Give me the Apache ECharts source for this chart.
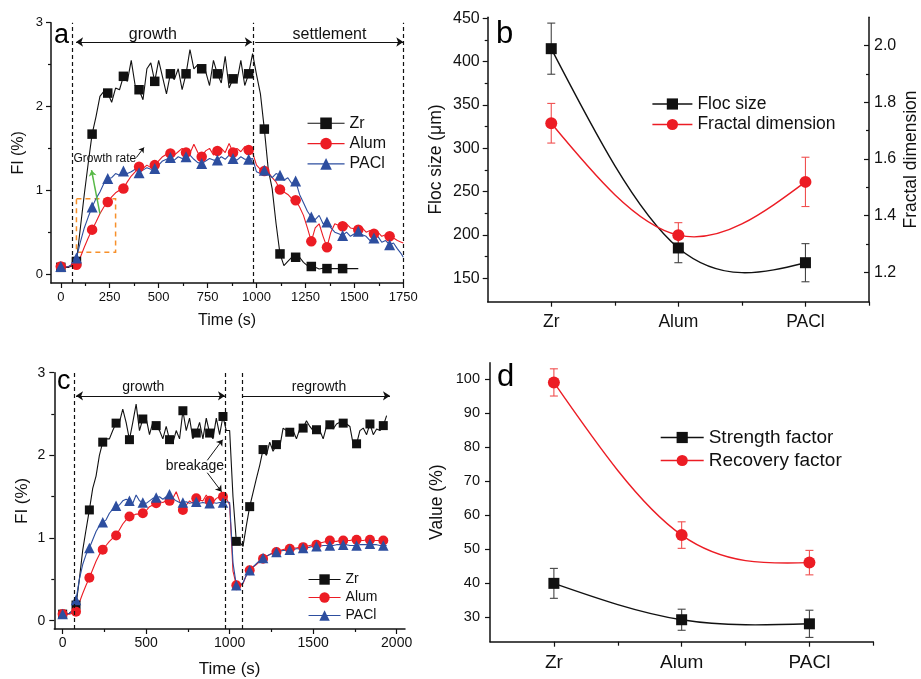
<!DOCTYPE html>
<html><head><meta charset="utf-8">
<script src="https://cdn.jsdelivr.net/npm/echarts@6/dist/echarts.min.js"></script>
<style>html,body{margin:0;padding:0;background:#fff}#c{width:921px;height:679px}</style>
</head><body><div id="c"></div>
<script>
// ================= DATA =================
const timeA = [0,20,40,60,80,100,120,140,160,180,
 200,220,240,260,280,300,320,340,360,380,
 400,420,440,460,480,500,520,540,560,580,
 600,620,640,660,680,700,720,740,760,780,
 800,820,840,860,880,900,920,940,960,980,
 1000,1020,1040,1060,1080,1100,1120,1140,1160,1180,
 1200,1220,1240,1260,1280,1300,1320,1340,1360,1380,
 1400,1420,1440,1460,1480,1500,1520,1540,1560,1580,
 1600,1620,1640,1660,1680,1700,1720,1740,1750];
const zrA = [0.08,0.08,0.08,0.10,0.15,0.55,0.95,1.32,1.67,1.88,
 2.12,2.18,2.16,2.05,2.22,2.20,2.36,2.30,2.55,2.25,
 2.20,2.08,2.45,2.52,2.30,2.55,2.35,2.15,2.39,2.32,
 2.45,2.20,2.39,2.68,2.45,2.50,2.45,2.42,2.25,2.55,
 2.39,2.28,2.60,2.22,2.33,2.30,2.55,2.25,2.39,2.63,
 2.38,2.15,1.73,1.25,1.02,0.60,0.24,0.10,0.15,0.20,
 0.20,0.20,0.14,0.10,0.09,0.08,0.06,0.07,0.065,0.065,
 0.065,0.065,0.065,0.065,0.065,0.065,0.065];
const alumA = [0.09,0.08,0.09,0.10,0.11,0.20,0.32,0.43,0.53,0.62,
 0.72,0.80,0.86,0.92,0.97,1.00,1.02,1.10,1.17,1.22,
 1.28,1.26,1.30,1.27,1.30,1.35,1.40,1.43,1.44,1.42,
 1.46,1.50,1.45,1.44,1.55,1.45,1.40,1.47,1.50,1.42,
 1.47,1.50,1.45,1.56,1.45,1.50,1.46,1.52,1.48,1.45,
 1.30,1.25,1.23,1.22,1.15,1.10,1.01,0.98,0.95,0.90,
 0.88,0.80,0.70,0.55,0.39,0.55,0.60,0.45,0.32,0.50,
 0.60,0.58,0.57,0.60,0.55,0.54,0.53,0.55,0.50,0.52,
 0.48,0.50,0.45,0.47,0.45,0.43,0.40,0.38,0.37];
const paclA = [0.09,0.08,0.09,0.12,0.19,0.38,0.55,0.68,0.80,0.90,
 0.98,1.08,1.14,1.15,1.20,1.18,1.23,1.20,1.22,1.25,
 1.21,1.24,1.27,1.25,1.26,1.30,1.35,1.37,1.39,1.36,
 1.40,1.38,1.40,1.42,1.37,1.33,1.32,1.35,1.38,1.36,
 1.36,1.40,1.37,1.42,1.38,1.36,1.40,1.37,1.37,1.38,
 1.22,1.20,1.24,1.20,1.15,1.20,1.18,1.12,1.15,1.08,
 1.11,0.95,0.85,0.75,0.68,0.65,0.70,0.60,0.62,0.55,
 0.50,0.48,0.46,0.50,0.45,0.48,0.51,0.47,0.45,0.40,
 0.43,0.45,0.38,0.40,0.35,0.37,0.30,0.24,0.20];

const timeC = [0,20,40,60,80,100,120,140,160,180,
 200,220,240,260,280,300,320,340,360,380,
 400,420,440,460,480,500,520,540,560,580,
 600,620,640,660,680,700,720,740,760,780,
 800,820,840,860,880,900,920,940,960,980,
 1000,1020,1040,1060,1080,1100,1120,1140,1160,1180,
 1200,1220,1240,1260,1280,1300,1320,1340,1360,1380,
 1400,1420,1440,1460,1480,1500,1520,1540,1560,1580,
 1600,1620,1640,1660,1680,1700,1720,1740,1760,1780,
 1800,1820,1840,1860,1880,1900,1920,1940];
const zrC = [0.08,0.08,0.09,0.12,0.19,0.50,0.85,1.10,1.34,1.60,
 1.75,2.00,2.16,2.20,2.20,2.30,2.39,2.40,2.56,2.40,
 2.19,2.40,2.62,2.30,2.44,2.45,2.25,2.40,2.36,2.30,
 2.20,2.35,2.19,2.15,2.30,2.20,2.54,2.30,2.45,2.20,
 2.27,2.40,2.20,2.45,2.27,2.20,2.45,2.25,2.47,2.30,
 2.30,1.50,0.96,0.95,0.90,1.15,1.38,1.55,1.72,1.88,
 2.07,2.00,2.16,2.05,2.13,2.10,2.33,2.30,2.28,2.30,
 2.20,2.32,2.33,2.42,2.35,2.30,2.31,2.30,2.20,2.35,
 2.37,2.32,2.38,2.40,2.39,2.38,2.35,2.13,2.14,2.30,
 2.33,2.25,2.38,2.25,2.32,2.30,2.36,2.48];
const alumC = [0.08,0.08,0.08,0.09,0.11,0.22,0.33,0.43,0.52,0.62,
 0.72,0.80,0.86,0.91,0.96,1.00,1.03,1.10,1.17,1.22,
 1.26,1.27,1.29,1.29,1.30,1.33,1.38,1.40,1.42,1.44,
 1.43,1.45,1.45,1.48,1.56,1.45,1.34,1.40,1.45,1.42,
 1.48,1.46,1.45,1.52,1.45,1.43,1.48,1.50,1.50,1.48,
 1.40,0.60,0.43,0.42,0.45,0.55,0.61,0.65,0.68,0.72,
 0.75,0.78,0.80,0.82,0.83,0.85,0.86,0.87,0.87,0.88,
 0.88,0.89,0.89,0.90,0.91,0.92,0.92,0.94,0.95,0.96,
 0.97,0.96,0.96,0.97,0.97,0.97,0.97,0.98,0.98,0.97,
 0.97,0.98,0.98,0.97,0.97,0.97,0.97,0.96];
const paclC = [0.08,0.08,0.09,0.12,0.25,0.50,0.68,0.80,0.88,0.98,
 1.08,1.15,1.19,1.22,1.30,1.35,1.39,1.40,1.45,1.47,
 1.45,1.42,1.52,1.45,1.43,1.42,1.45,1.48,1.49,1.50,
 1.47,1.50,1.53,1.48,1.45,1.43,1.43,1.44,1.42,1.43,
 1.44,1.42,1.43,1.42,1.42,1.43,1.42,1.43,1.43,1.44,
 1.43,0.70,0.43,0.42,0.46,0.55,0.61,0.65,0.69,0.73,
 0.76,0.78,0.80,0.82,0.83,0.84,0.85,0.85,0.86,0.86,
 0.87,0.87,0.88,0.88,0.89,0.90,0.90,0.90,0.91,0.91,
 0.91,0.91,0.92,0.92,0.92,0.92,0.91,0.91,0.91,0.92,
 0.92,0.92,0.93,0.92,0.92,0.91,0.91,0.91];

const categories = ['Zr','Alum','PACl'];
const flocSize = [415,185,168];
const flocErr = [29.5,17,22];
const fractalDim = [1.726,1.331,1.519];
const fractalErr = [0.07,0.044,0.087];
const strengthFactor = [39.9,29.2,28.0];
const strengthErr = [4.4,3.1,4.0];
const recoveryFactor = [99.0,54.1,46.0];
const recoveryErr = [4.0,3.9,3.6];

// tick values / labels
const ticksAx = [0,250,500,750,1000,1250,1500,1750];
const minorAx = [125,375,625,875,1125,1375,1625];
const ticksFI = [0,1,2,3];
const minorFI = [0.5,1.5,2.5];
const ticksCx = [0,500,1000,1500,2000];
const minorCx = [250,750,1250,1750];
const ticksFloc = [150,200,250,300,350,400,450];
const minorFloc = [175,225,275,325,375,425];
const ticksFrac = [1.2,1.4,1.6,1.8,2.0];
const minorFrac = [1.3,1.5,1.7,1.9];
const ticksCat = [0,1,2];
const minorCat = [0.5,1.5,2.5];
const ticksVal = [30,40,50,60,70,80,90,100];

// ================= STYLE =================
const FONT = '"Liberation Sans", Arial, Helvetica, sans-serif';
const INK = '#111';
const RED = '#ec1c24';
const BLUE = '#2d4e9f';

const pts = (t, v) => v.map((y, i) => [t[i], y]);
const catPts = (v) => v.map((y, i) => [i, y]);
const errPts = (v, e) => v.map((y, i) => [i, y, e[i]]);
const plainFmt = (v) => String(v);

function axis(o) {
  return {
    type: 'value', gridIndex: o.grid, min: o.min, max: o.max, position: o.pos,
    splitLine: { show: false },
    axisLine: { show: o.line !== false, onZero: false, lineStyle: { color: INK, width: 1.5 } },
    axisTick: { show: true, inside: !!o.inside, length: o.len || 5, customValues: o.ticks,
                lineStyle: { color: INK, width: 1.2 } },
    axisLabel: { show: !!o.labels, customValues: o.labels, margin: o.margin || 8,
                 fontSize: o.fs || 13, fontFamily: FONT, color: INK, formatter: o.fmt || plainFmt },
    name: o.name || '', nameLocation: 'middle', nameGap: o.nameGap || 30,
    nameTextStyle: { fontSize: o.nfs || 16, fontFamily: FONT, color: INK }
  };
}
const catFmt = (v) => categories[Math.round(v)];

const xAxes = [
  axis({grid:0, min:-50, max:1750, pos:'bottom', ticks:ticksAx, labels:ticksAx, fs:13, margin:8, name:'Time (s)', nfs:16, nameGap:30}),
  axis({grid:0, min:-50, max:1750, pos:'bottom', ticks:minorAx, len:3, line:false}),
  axis({grid:1, min:-50, max:2050, pos:'bottom', ticks:ticksCx, labels:ticksCx, fs:14, margin:7, name:'Time (s)', nfs:17, nameGap:32}),
  axis({grid:1, min:-50, max:2050, pos:'bottom', ticks:minorCx, len:3, line:false}),
  axis({grid:2, min:-0.5, max:2.5, pos:'bottom', ticks:ticksCat, labels:ticksCat, fs:17.5, margin:11, fmt:catFmt}),
  axis({grid:2, min:-0.5, max:2.5, pos:'bottom', ticks:minorCat, len:4, line:false}),
  axis({grid:3, min:-0.5, max:2.5, pos:'bottom', ticks:ticksCat, labels:ticksCat, fs:19, margin:12, fmt:catFmt}),
  axis({grid:3, min:-0.5, max:2.5, pos:'bottom', ticks:minorCat, len:4, line:false})
];
const yAxes = [
  axis({grid:0, min:-0.107, max:3, pos:'left', ticks:ticksFI, labels:ticksFI, fs:13, margin:8, name:'FI (%)', nfs:16, nameGap:24}),
  axis({grid:0, min:-0.107, max:3, pos:'left', ticks:minorFI, len:3, line:false}),
  axis({grid:1, min:-0.1, max:3, pos:'left', ticks:ticksFI, labels:ticksFI, fs:14, margin:9, name:'FI (%)', nfs:17, nameGap:23}),
  axis({grid:1, min:-0.1, max:3, pos:'left', ticks:minorFI, len:3, line:false}),
  axis({grid:2, min:123, max:451.2, pos:'left', ticks:ticksFloc, labels:ticksFloc, fs:16, margin:8, name:'Floc size (\u03bcm)', nfs:17.5, nameGap:43}),
  axis({grid:2, min:123, max:451.2, pos:'left', ticks:minorFloc, len:3, line:false}),
  axis({grid:2, min:1.096, max:2.1, pos:'right', ticks:ticksFrac, labels:ticksFrac, inside:true, fs:16, margin:5, fmt:(v)=>v.toFixed(1), name:'Fractal dimension', nfs:17.5, nameGap:33}),
  axis({grid:2, min:1.096, max:2.1, pos:'right', ticks:minorFrac, inside:true, len:3, line:false}),
  axis({grid:3, min:22.74, max:104.8, pos:'left', ticks:ticksVal, labels:ticksVal, fs:14.5, margin:10, name:'Value (%)', nfs:17.5, nameGap:44})
];

function ts(name, t, v, color, symbol, size, xi, yi, lastMark, extra) {
  return Object.assign({
    type: 'line', name, data: pts(t, v), xAxisIndex: xi, yAxisIndex: yi,
    symbol, showSymbol: true,
    symbolSize: (val) => (val[0] % 80 === 0 && val[0] <= lastMark) ? size : 0,
    lineStyle: { color, width: 1.1 }, itemStyle: { color },
    emphasis: { disabled: true }, silent: true, animation: false
  }, extra || {});
}
// markers only (curve drawn by spline series); line kept invisible
function catMarks(name, v, color, symbol, size, xi, yi) {
  return { type: 'line', name, data: catPts(v), xAxisIndex: xi, yAxisIndex: yi,
    symbol, symbolSize: size, lineStyle: { color, width: 1.4, opacity: 0 }, itemStyle: { color },
    emphasis: { disabled: true }, silent: true, animation: false, z: 4 };
}
// natural cubic spline second derivatives
function splineM(xs, ys) {
  const n = xs.length, M = new Array(n).fill(0);
  if (n < 3) return M;
  const a = [], b = [], c = [], d = [];
  for (let i = 1; i < n - 1; i++) {
    const h0 = xs[i] - xs[i-1], h1 = xs[i+1] - xs[i];
    a.push(h0); b.push(2 * (h0 + h1)); c.push(h1);
    d.push(6 * ((ys[i+1] - ys[i]) / h1 - (ys[i] - ys[i-1]) / h0));
  }
  const m = b.length;
  for (let i = 1; i < m; i++) { const w = a[i] / b[i-1]; b[i] -= w * c[i-1]; d[i] -= w * d[i-1]; }
  const s = new Array(m); s[m-1] = d[m-1] / b[m-1];
  for (let i = m - 2; i >= 0; i--) s[i] = (d[i] - c[i] * s[i+1]) / b[i];
  for (let i = 0; i < m; i++) M[i+1] = s[i];
  return M;
}
function splineSeries(name, v, color, xi, yi) {
  const xs = v.map((_, i) => i);
  const M = splineM(xs, v);
  return { type: 'custom', name, data: catPts(v).slice(0, v.length - 1), xAxisIndex: xi, yAxisIndex: yi,
    z: 3, silent: true, animation: false, encode: { x: 0, y: 1 },
    renderItem: (params, api) => {
      const i = params.dataIndex;
      const h = xs[i+1] - xs[i], dy = (v[i+1] - v[i]) / h;
      const s0 = dy - h * (2 * M[i] + M[i+1]) / 6, s1 = dy + h * (M[i] + 2 * M[i+1]) / 6;
      const p0 = api.coord([xs[i], v[i]]), p1 = api.coord([xs[i+1], v[i+1]]);
      const c0 = api.coord([xs[i] + h / 3, v[i] + s0 * h / 3]);
      const c1 = api.coord([xs[i+1] - h / 3, v[i+1] - s1 * h / 3]);
      return { type: 'bezierCurve',
        shape: { x1: p0[0], y1: p0[1], x2: p1[0], y2: p1[1], cpx1: c0[0], cpy1: c0[1], cpx2: c1[0], cpy2: c1[1] },
        style: { stroke: color, lineWidth: 1.4, fill: 'none' } };
    } };
}
function err(name, v, e, color, xi, yi) {
  return { type: 'custom', name, data: errPts(v, e), xAxisIndex: xi, yAxisIndex: yi, z: 2, silent: true,
    animation: false, encode: { x: 0, y: 1 },
    renderItem: (params, api) => {
      const x = api.value(0), y = api.value(1), d = api.value(2);
      const a = api.coord([x, y + d]), b = api.coord([x, y - d]);
      const w = 4, st = { stroke: color, lineWidth: 1.1, fill: 'none' };
      return { type: 'group', children: [
        { type: 'line', shape: { x1: a[0], y1: a[1], x2: b[0], y2: b[1] }, style: st },
        { type: 'line', shape: { x1: a[0]-w, y1: a[1], x2: a[0]+w, y2: a[1] }, style: st },
        { type: 'line', shape: { x1: b[0]-w, y1: b[1], x2: b[0]+w, y2: b[1] }, style: st }
      ]};
    } };
}
const dashV = (xs) => ({ silent: true, symbol: ['none','none'], label: { show: false },
  lineStyle: { color: INK, width: 1.2, type: [4,3] }, data: xs.map(x => ({ xAxis: x })) });
const txt = (c, text, fs) => ({ coord: c, symbol: 'circle', symbolSize: 1,
  itemStyle: { color: 'rgba(0,0,0,0)' },
  label: { show: true, position: 'inside', formatter: text, fontSize: fs, fontFamily: FONT, color: INK } });
const arrow = (p, q, both, sz) => [
  { coord: p, symbol: both ? 'arrow' : 'none', symbolSize: sz },
  { coord: q, symbol: 'arrow', symbolSize: sz }];
const arrowLines = (list) => ({ silent: true, label: { show: false },
  lineStyle: { color: INK, width: 1, type: 'solid' }, data: list });

const series = [
  // panel a
  ts('Zr', timeA, zrA, INK, 'rect', 9.5, 0, 0, 1440, {
    markLine: dashV([60, 985, 1750]),
    markPoint: { silent: true, data: [
      txt([470, 2.86], 'growth', 16), txt([1373, 2.86], 'settlement', 16), txt([225, 1.38], 'Growth rate', 12) ] }
  }),
  ts('Alum', timeA, alumA, RED, 'circle', 10.5, 0, 0, 99999, {
    markLine: arrowLines([ arrow([78, 2.77], [976, 2.77], true, 7), arrow([993, 2.77], [1750, 2.77], false, 7),
      arrow([386, 1.39], [425, 1.51], false, 5) ])
  }),
  ts('PACl', timeA, paclA, BLUE, 'triangle', 11, 0, 0, 99999, {
    markLine: { silent: true, label: { show: false }, symbol: ['none', 'arrow'], symbolSize: 6,
      lineStyle: { color: '#58b947', width: 1.5, type: 'solid', curveness: -0.45 },
      data: [[{ coord: [200, 0.72] }, { coord: [157, 1.24] }]] },
    markArea: { silent: true, itemStyle: { color: 'rgba(0,0,0,0)', borderColor: '#f7902a', borderWidth: 1.5, borderType: [5,4] },
      data: [[{ coord: [80, 0.9] }, { coord: [280, 0.26] }]] }
  }),
  // panel c
  ts('Zr', timeC, zrC, INK, 'rect', 9, 2, 2, 99999, {
    markLine: dashV([70, 976, 1078]),
    markPoint: { silent: true, data: [
      txt([483, 2.83], 'growth', 14), txt([1535, 2.83], 'regrowth', 14), txt([792, 1.87], 'breakage', 14) ] }
  }),
  ts('Alum', timeC, alumC, RED, 'circle', 10, 2, 2, 99999, {
    markLine: arrowLines([ arrow([80, 2.72], [972, 2.72], true, 7), arrow([1080, 2.72], [1960, 2.72], false, 7),
      arrow([866, 1.94], [958, 2.19], false, 6), arrow([866, 1.79], [952, 1.56], false, 6) ])
  }),
  ts('PACl', timeC, paclC, BLUE, 'triangle', 10.5, 2, 2, 99999),
  // panel b
  err('flocErr', flocSize, flocErr, '#444', 4, 4),
  err('fracErr', fractalDim, fractalErr, '#f05050', 4, 6),
  splineSeries('flocCurve', flocSize, INK, 4, 4),
  splineSeries('fracCurve', fractalDim, RED, 4, 6),
  catMarks('Floc size', flocSize, INK, 'rect', 11, 4, 4),
  catMarks('Fractal dimension', fractalDim, RED, 'circle', 12, 4, 6),
  // panel d
  err('strErr', strengthFactor, strengthErr, '#444', 6, 8),
  err('recErr', recoveryFactor, recoveryErr, '#f05050', 6, 8),
  splineSeries('strCurve', strengthFactor, INK, 6, 8),
  splineSeries('recCurve', recoveryFactor, RED, 6, 8),
  catMarks('Strength factor', strengthFactor, INK, 'rect', 11, 6, 8),
  catMarks('Recovery factor', recoveryFactor, RED, 'circle', 12, 6, 8)
];

const legendBase = (o) => ({ orient: 'vertical', padding: 0, selectedMode: false, left: o.left, top: o.top,
  itemWidth: o.w, itemHeight: o.h, itemGap: o.gap,
  data: o.data.map(n => ({ name: n, lineStyle: { opacity: 1, width: o.lw } })),
  textStyle: { fontSize: o.fs, fontFamily: FONT, color: INK } });

const letter = (t, x, y, fs) => ({ type: 'text', x, y, silent: true,
  style: { text: t, fontSize: fs, fontFamily: FONT, fill: '#000', align: 'left', verticalAlign: 'middle' } });

const option = {
  animation: false,
  backgroundColor: '#fff',
  grid: [
    { left: 51, top: 22.7, width: 352.3, height: 260.3 },
    { left: 54.3, top: 372.7, width: 350.7, height: 258 },
    { left: 487.7, top: 17.3, width: 383, height: 284.4 },
    { left: 490, top: 362.7, width: 383.3, height: 279 }
  ],
  xAxis: xAxes,
  yAxis: yAxes,
  legend: [
    legendBase({ left: 307, top: 115.3, w: 37, h: 14.5, gap: 4.3, fs: 16, lw: 1.1, data: ['Zr','Alum','PACl'] }),
    legendBase({ left: 308, top: 572.5, w: 32, h: 13, gap: 4, fs: 14, lw: 1.1, data: ['Zr','Alum','PACl'] }),
    legendBase({ left: 651.7, top: 95, w: 40, h: 14, gap: 2.5, fs: 17.5, lw: 1.4, data: ['Floc size','Fractal dimension'] }),
    legendBase({ left: 660, top: 428, w: 43, h: 14, gap: 4, fs: 19, lw: 1.4, data: ['Strength factor','Recovery factor'] })
  ],
  graphic: [
    letter('a', 54, 36, 27), letter('b', 496, 34, 31), letter('c', 57, 382, 27), letter('d', 497, 377.5, 31)
  ],
  series
};
const chart = echarts.init(document.getElementById('c'), null, { renderer: 'canvas' });
chart.setOption(option);
</script></body></html>
